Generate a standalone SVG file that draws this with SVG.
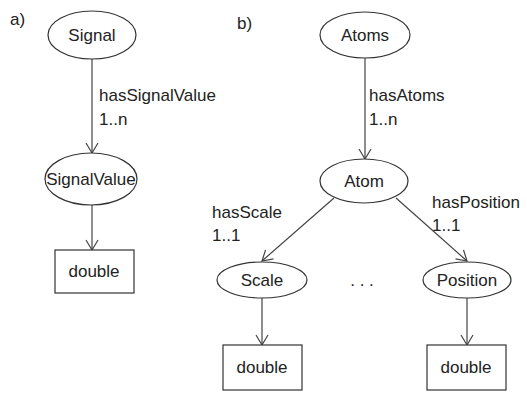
<svg xmlns="http://www.w3.org/2000/svg" width="527" height="394" viewBox="0 0 527 394">
<defs>
<style>
text{font-family:"Liberation Sans",Arial,sans-serif;font-size:17px;fill:#222}
.c{text-anchor:middle}
.n{fill:#fff;stroke:#333;stroke-width:1.2}
.e{stroke:#444;stroke-width:1.2;fill:none}
</style>
<marker id="ah" viewBox="0 0 12 14" refX="11" refY="7" markerWidth="12" markerHeight="14" markerUnits="userSpaceOnUse" orient="auto">
<path d="M1,1 L11,7 L1,13" fill="none" stroke="#444" stroke-width="1.2"/>
</marker>
</defs>
<rect width="527" height="394" fill="#fff"/>
<text x="10" y="25">a)</text>
<text x="237" y="29">b)</text>
<g id="connectors">
<line class="e" x1="92" y1="59" x2="92" y2="153" marker-end="url(#ah)"/>
<line class="e" x1="92" y1="205" x2="92" y2="250" marker-end="url(#ah)"/>
<line class="e" x1="365" y1="58" x2="365" y2="159" marker-end="url(#ah)"/>
<line class="e" x1="334" y1="198" x2="262" y2="261" marker-end="url(#ah)"/>
<line class="e" x1="396" y1="198" x2="467" y2="261" marker-end="url(#ah)"/>
<line class="e" x1="262" y1="298" x2="262" y2="345" marker-end="url(#ah)"/>
<line class="e" x1="467" y1="298" x2="467" y2="345" marker-end="url(#ah)"/>
<text x="99" y="101">hasSignalValue</text>
<text x="99" y="125">1..n</text>
<text x="369" y="101">hasAtoms</text>
<text x="369" y="125">1..n</text>
<text x="212" y="218">hasScale</text>
<text x="212" y="241">1..1</text>
<text x="432" y="208">hasPosition</text>
<text x="432" y="231">1..1</text>
</g>
<g id="signal"><ellipse class="n" cx="92" cy="35" rx="44" ry="24"/><text class="c" x="92" y="41">Signal</text></g>
<g id="signalvalue"><ellipse class="n" cx="91" cy="179" rx="46" ry="26"/><text class="c" x="91" y="185">SignalValue</text></g>
<g id="double-a"><rect class="n" x="55" y="250" width="79" height="43"/><text class="c" x="94" y="277">double</text></g>
<g id="atoms"><ellipse class="n" cx="365" cy="35" rx="45" ry="23"/><text class="c" x="365" y="41">Atoms</text></g>
<g id="atom"><ellipse class="n" cx="364" cy="181" rx="44" ry="22"/><text class="c" x="364" y="187">Atom</text></g>
<g id="scale"><ellipse class="n" cx="262" cy="280" rx="45" ry="18"/><text class="c" x="262" y="286">Scale</text></g>
<g id="position"><ellipse class="n" cx="467" cy="280" rx="44" ry="18"/><text class="c" x="467" y="286">Position</text></g>
<text class="c" x="362" y="286">. . .</text>
<g id="double-scale"><rect class="n" x="223" y="345" width="79" height="45"/><text class="c" x="262" y="373">double</text></g>
<g id="double-position"><rect class="n" x="427" y="345" width="79" height="45"/><text class="c" x="466" y="373">double</text></g>
</svg>
